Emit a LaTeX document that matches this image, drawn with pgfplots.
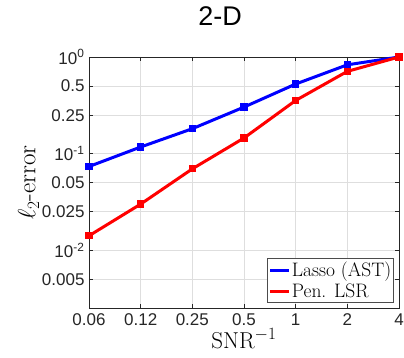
\documentclass[border=0pt]{standalone}
\usepackage{fontspec}
\usepackage{pgfplots}
\pgfplotsset{compat=1.18}
\usetikzlibrary{calc}
\newfontfamily\hv{Liberation Sans}
\definecolor{gridc}{gray}{0.87}
\definecolor{axc}{gray}{0.15}
\begin{document}
\begin{tikzpicture}
\begin{axis}[
  scale only axis, width=310pt, height=251pt,
  xmode=log, ymode=log, log basis x=2,
  xmin=0.0625, xmax=4, ymin=0.00252, ymax=1,
  xtick={0.0625,0.125,0.25,0.5,1,2,4},
  xticklabels={0.06,0.12,0.25,0.5,1,2,4},
  ytick={0.005,0.01,0.025,0.05,0.1,0.25,0.5,1},
  yticklabels={0.005,10\textsuperscript{-2},0.025,0.05,10\textsuperscript{-1},0.25,0.5,10\textsuperscript{0}},
  minor tick num=0, minor xtick={}, minor ytick={},
  tick label style={font=\hv\fontsize{17}{17}\selectfont, text=black!85},
  xticklabel style={yshift=-2pt},
  yticklabel style={xshift=-1pt},
  grid=major, major grid style={gridc, line width=0.6pt},
  axis line style={axc, line width=0.7pt},
  tick style={axc, line width=0.7pt},
  tick align=inside, major tick length=4pt,
  xlabel={SNR$^{-1}$}, ylabel={$\ell_2$-error},
  xlabel style={font=\fontsize{23}{23}\selectfont, yshift=4pt},
  ylabel style={font=\fontsize{25}{25}\selectfont, yshift=-4pt},
  title={2-D},
  title style={font=\hv\fontsize{27}{27}\selectfont, at={(axis description cs:0.423,1)}, anchor=base, yshift=25pt},
  legend style={at={(1,0)}, anchor=south east, xshift=-5pt, yshift=5pt,
    font=\fontsize{19.5}{19.5}\selectfont, draw=black!70, line width=0.6pt,
    inner sep=1.5pt, row sep=2pt, nodes={inner xsep=1pt}},
  legend cell align=left,
  legend image code/.code={\draw[#1, line width=3pt] (0cm,0cm) -- (0.68cm,0cm);},
]
\addplot[blue, line width=3pt, mark=square*, mark size=2.1pt] coordinates {
 (0.0625,0.0735) (0.125,0.117) (0.25,0.181) (0.5,0.303) (1,0.525) (2,0.83) (4,1.0)};
\addlegendentry{Lasso (AST)}
\addplot[red, line width=3pt, mark=square*, mark size=2.1pt] coordinates {
 (0.0625,0.0141) (0.125,0.030) (0.25,0.0695) (0.5,0.145) (1,0.355) (2,0.71) (4,1.0)};
\addlegendentry{Pen. LSR}
\end{axis}
\pgfresetboundingbox
\path[use as bounding box] ($(current axis.south west)+(-89pt,-49pt)$) rectangle ($(current axis.north east)+(5pt,57pt)$);
\end{tikzpicture}
\end{document}
